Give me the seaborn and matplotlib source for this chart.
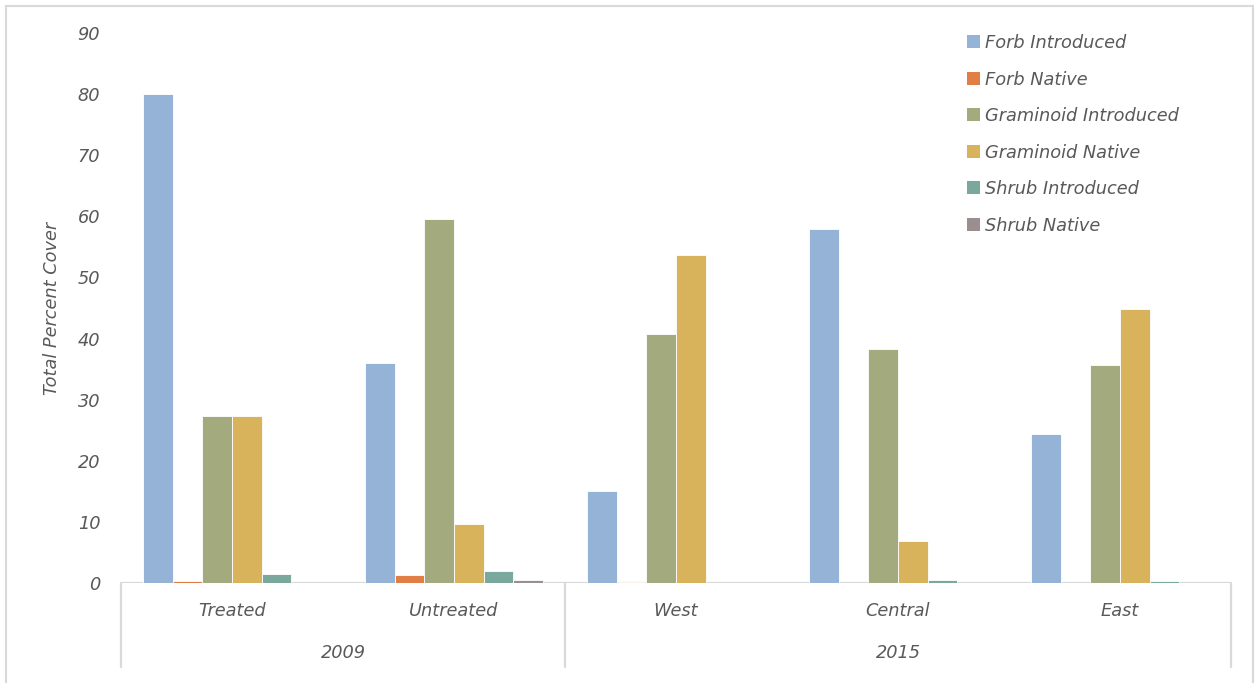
import matplotlib
matplotlib.use("Agg")
import matplotlib.pyplot as plt
from matplotlib.patches import Rectangle, Patch
import seaborn as sns
import pandas as pd

# Site groups and the functional groups recorded at each
sites = ["Treated", "Untreated", "West", "Central", "East"]
years = ["2009", "2009", "2015", "2015", "2015"]
groups = ["Forb Introduced", "Forb Native", "Graminoid Introduced",
          "Graminoid Native", "Shrub Introduced", "Shrub Native"]

forb_introduced = [80.0, 36.0, 15.1, 58.0, 24.4]
forb_native = [0.4, 1.3, 0.2, 0.0, 0.0]
graminoid_introduced = [27.4, 59.5, 40.8, 38.3, 35.6]
graminoid_native = [27.4, 9.7, 53.6, 6.8, 44.9]
shrub_introduced = [1.4, 2.0, 0.0, 0.5, 0.4]
shrub_native = [0.0, 0.5, 0.0, 0.0, 0.0]

colors = ["#95B3D7", "#E07E45", "#A3AA7E", "#D9B25C", "#7BA89C", "#9A8E8F"]

series = [forb_introduced, forb_native, graminoid_introduced,
          graminoid_native, shrub_introduced, shrub_native]
df = pd.DataFrame([
    {"site": s, "group": g, "cover": v}
    for g, vals in zip(groups, series)
    for s, v in zip(sites, vals)
])

sns.set_theme(style="white")
plt.rcParams["font.family"] = ["DejaVu Sans"]
text_color = "#595959"
line_color = "#D9D9D9"
fs = 12.8

W, H = 1256, 683
fig = plt.figure(figsize=(W / 100, H / 100), dpi=100)
ax = fig.add_axes([121 / W, (H - 583) / H, (1231 - 121) / W, 550 / H])

sns.barplot(data=df, x="site", y="cover", hue="group", order=sites,
            hue_order=groups, palette=colors, saturation=1, width=0.8, gap=0,
            edgecolor="white", linewidth=0.6, ax=ax, legend=False)

ax.set_ylim(0, 90)
ax.set_xlim(-0.5, len(sites) - 0.5)
ax.set_yticks(range(0, 91, 10))
ax.set_yticklabels([str(t) for t in range(0, 91, 10)],
                   fontsize=fs, style="italic", color=text_color)
ax.tick_params(axis="y", length=0, pad=15)
ax.set_xticks(range(len(sites)))
ax.set_xticklabels(sites, fontsize=fs, style="italic", color=text_color)
ax.tick_params(axis="x", length=0, pad=14)
ax.set_xlabel("")
ax.set_ylabel("Total Percent Cover", fontsize=fs, style="italic",
              color=text_color, labelpad=12)
for sp in ax.spines.values():
    sp.set_visible(False)
ax.grid(False)

# Baseline and the category table below the plot
ax.axhline(0, color=line_color, lw=1.6, zorder=0)
trans = ax.get_xaxis_transform()
depth = -84 / 550
for xpos in [-0.5, 1.5, len(sites) - 0.5]:
    ax.plot([xpos, xpos], [0, depth], transform=trans, color=line_color,
            lw=1.6, clip_on=False)

# Year labels centred under their site groups
year_spans = {}
for i, y in enumerate(years):
    year_spans.setdefault(y, []).append(i)
for y, idx in year_spans.items():
    ax.text(sum(idx) / len(idx), -70 / 550, y, transform=trans,
            ha="center", va="center", fontsize=fs, style="italic",
            color=text_color)

handles = [Patch(facecolor=c, edgecolor="none") for c in colors]
fig.legend(handles, groups, loc="upper left",
           bbox_to_anchor=(960 / W, 1 - 27 / H), frameon=False,
           prop={"size": fs, "style": "italic"}, labelcolor=text_color,
           handlelength=0.75, handleheight=0.75, handletextpad=0.25,
           labelspacing=1.04, borderaxespad=0)

# Chart frame
fig.patches.append(Rectangle((6 / W, -0.05), (1253 - 6) / W, (H - 6) / H + 0.05,
                             transform=fig.transFigure, fill=False,
                             edgecolor=line_color, lw=1.5))

fig.savefig("out.png", dpi=100)
